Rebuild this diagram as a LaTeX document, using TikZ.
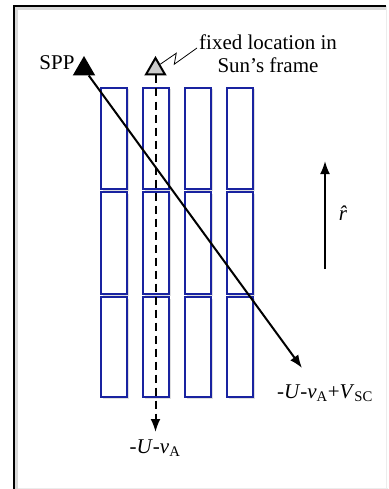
\documentclass[tikz,border=0pt]{standalone}
\usepackage{fontspec}
\setmainfont{Liberation Serif}
\usetikzlibrary{shapes.geometric,arrows.meta,shadows}
\definecolor{stripblue}{RGB}{25,35,160}

\begin{document}
\begin{tikzpicture}[x=1pt, y=-1pt]
        \tikzstyle{strip}=[draw=stripblue, line width=1.5pt, fill=white, drop shadow={opacity=0.25, shadow xshift=1.5pt, shadow yshift=-1.5pt}]
        \tikzstyle{tri}=[regular polygon, regular polygon sides=3, minimum size=22pt, inner sep=0pt, draw, line width=2pt]
        \tikzstyle{txt}=[inner sep=0pt, font=\fontsize{21}{23}\selectfont]
        \tikzstyle{vec}=[line width=2pt, -{Latex[length=13pt, width=10pt]}]
        \useasboundingbox (0,0) rectangle (388,489);

        % Frame
        \draw[gray!15, line width=1pt] (386,6) -- (386,489);
        \draw[gray!15, line width=1pt] (14,488) -- (388,488);
        \draw[gray!30, line width=5pt] (15,489) -- (15,8) -- (386,8);
        \draw[line width=2.5pt] (14,489) -- (14,6) -- (386,6);

        % Strips (4 columns, 3 rows)
        \foreach \c in {0,...,3} {
            \foreach \top/\bot in {88/189, 192/294, 297/397} {
                \filldraw[strip] (101+42*\c,\top) rectangle (127+42*\c,\bot);
            }
        }

        % Markers
        \node[tri, fill=black] (spp) at (84,69) {};
        \node[tri, fill=gray!40] (fixed) at (155.5,69) {};
        \node[txt] (spptxt) at (57,63) {SPP};
        \node[txt, align=center] (fixedtxt) at (268,54) {fixed location in\\Sun\char"27 s frame};
        \coordinate (sq) at (197,48);
        \draw[line width=0.8pt] (fixed.north east) -- ++(16,-11) -- ++(-2,11) -- (sq);

        % Trajectories
        \coordinate (sppend) at (302,368);
        \coordinate (fixend) at (155.5,432);
        \draw[vec] (spp) -- (sppend);
        \draw[vec, dash pattern=on 8pt off 5pt] (fixed) -- (fixend);
        \node[txt] (vsc) at (325,393) {-\textit{U}-\textit{v}\textsubscript{A}+\textit{V}\textsubscript{SC}};
        \node[txt] (va) at (155,448) {-\textit{U}-\textit{v}\textsubscript{A}};

        % Radial direction
        \coordinate (rtail) at (325,269);
        \coordinate (rtip) at (325,161);
        \draw[vec] (rtail) -- (rtip);
        \node[txt] (rhat) at (347,213) {\textit{\^{r}}};
    \end{tikzpicture}
\end{document}
